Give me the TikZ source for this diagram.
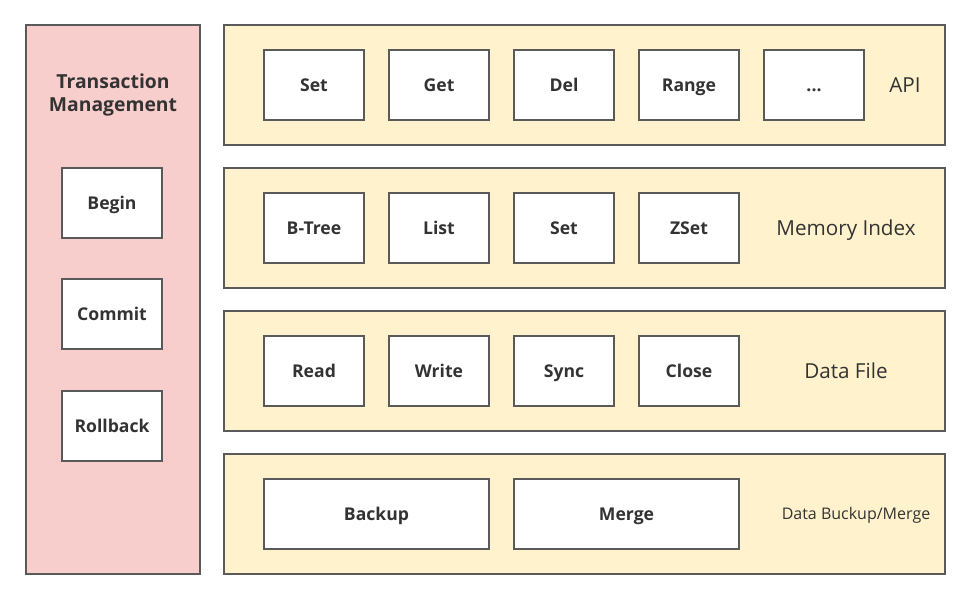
\documentclass[tikz,border=0pt]{standalone}
\usepackage{fontspec}
\setmainfont{Open Sans}
\definecolor{pinkf}{HTML}{F8CECC}
\definecolor{yelf}{HTML}{FFF2CC}
\definecolor{bord}{HTML}{5A5A5A}
\definecolor{txt}{HTML}{333333}
\begin{document}
\begin{tikzpicture}[x=0.75pt,y=-0.75pt,
  panel/.style={draw=bord,line width=1.5pt,fill=yelf},
  tpanel/.style={draw=bord,line width=1.5pt,fill=pinkf},
  item/.style={draw=bord,line width=1.5pt,fill=white,text=txt,font=\bfseries\fontsize{13.2}{15}\selectfont,inner sep=0pt,text height=9.4pt,text depth=0pt},
  sm/.style={item,minimum width=100*0.75pt,minimum height=70*0.75pt},
  wide/.style={item,minimum width=225*0.75pt,minimum height=70*0.75pt},
  lbl/.style={text=txt,font=\fontsize{15.5}{18}\selectfont,text height=11pt,text depth=0pt}]
\useasboundingbox (0,0) rectangle (980,599);
% left panel
\path[tpanel] (26,25) rectangle (200,574);
\node[text=txt,font=\bfseries\fontsize{14.5}{17.5}\selectfont,align=center] (tm) at (113,95) {Transaction\\Management};
\node[sm] (begin) at (112,203) {Begin};
\node[sm] (commit) at (112,314) {Commit};
\node[sm] (rollback) at (112,426) {Rollback};
% right panels
\path[panel] (224,25) rectangle (945,145);
\path[panel] (224,168) rectangle (945,288);
\path[panel] (224,311) rectangle (945,431);
\path[panel] (224,454) rectangle (945,574);
% row 1
\node[sm] (set) at (314,85) {Set};
\node[sm] (get) at (439,85) {Get};
\node[sm] (del) at (564,85) {Del};
\node[sm] (range) at (689,85) {Range};
\node[sm] (dots) at (814,85) {...};
\node[lbl] (api) at (905,85) {API};
% row 2
\node[sm] (btree) at (314,228) {B-Tree};
\node[sm] (list) at (439,228) {List};
\node[sm] (zset0) at (564,228) {Set};
\node[sm] (zset) at (689,228) {ZSet};
\node[lbl] (mi) at (846,228) {Memory Index};
% row 3
\node[sm] (read) at (314,371) {Read};
\node[sm] (write) at (439,371) {Write};
\node[sm] (sync) at (564,371) {Sync};
\node[sm] (close) at (689,371) {Close};
\node[lbl] (df) at (846,371) {Data File};
% row 4
\node[wide] (backup) at (376.5,514) {Backup};
\node[wide] (merge) at (626.5,514) {Merge};
\node[text=txt,font=\fontsize{12}{14}\selectfont,text height=8.6pt,text depth=0pt] (dbm) at (856,514) {Data Buckup/Merge};
\end{tikzpicture}
\end{document}
